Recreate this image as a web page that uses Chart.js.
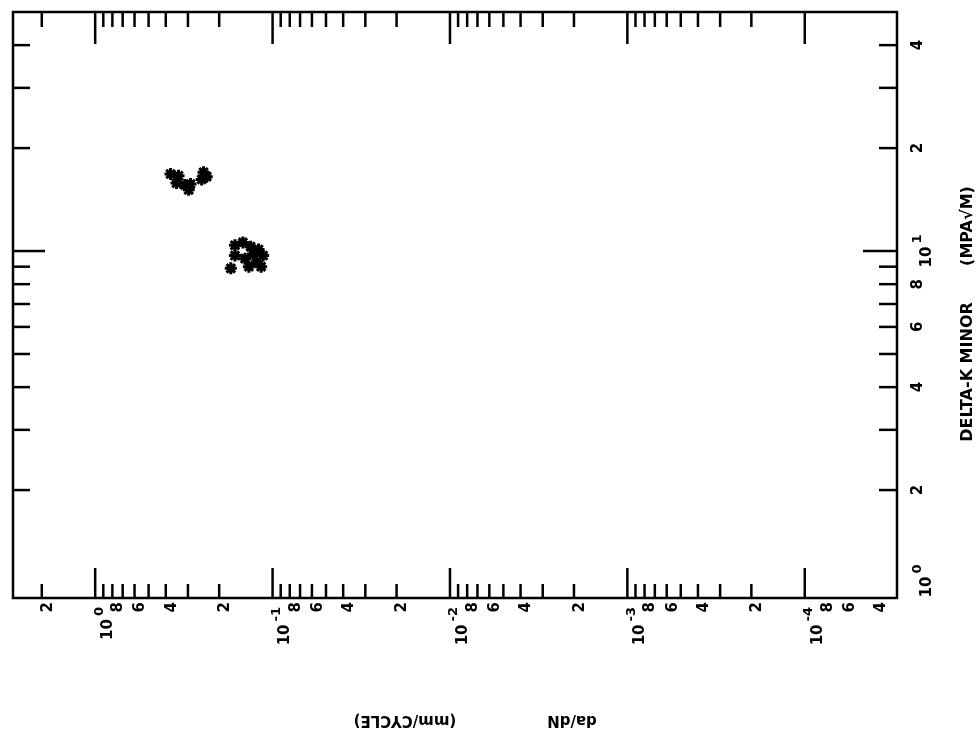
<!DOCTYPE html>
<html>
<head>
<meta charset="utf-8">
<script src="https://cdn.jsdelivr.net/npm/chart.js@4"></script>
<style>
  html, body { margin: 0; padding: 0; background: #fff; }
  #wrap { width: 977px; height: 735px; }
</style>
</head>
<body>
<div id="wrap"><canvas id="grafik"></canvas></div>
<script>
// da/dN (mm/cycle) -> horizontal axis, reversed log
const daDnRange = [2.906, 0.0000302];
// delta-K minor (MPa sqrt m) -> right axis, log
const deltaKRange = [0.967, 50];

const xMajorTicks = [1, 0.1, 0.01, 0.001, 0.0001];
const xMinorMult = [2, 3, 4, 5, 6, 7, 8, 9];
const xLabelValues = [2, 1, 0.8, 0.6, 0.4, 0.2, 0.1, 0.08, 0.06, 0.04, 0.02, 0.01, 0.008, 0.006, 0.004, 0.002,
  0.001, 0.0008, 0.0006, 0.0004, 0.0002, 0.0001, 0.00008, 0.00006, 0.00004];
const xLabelTexts = ['2', '10^0', '8', '6', '4', '2', '10^-1', '8', '6', '4', '2', '10^-2', '8', '6', '4', '2',
  '10^-3', '8', '6', '4', '2', '10^-4', '8', '6', '4'];

const yMajorTicks = [10];
const yMinorTicks = [2, 3, 4, 5, 6, 7, 8, 9, 20, 30, 40];
const yLabelValues = [1, 2, 4, 6, 8, 10, 20, 40];
const yLabelTexts = ['10^0', '2', '4', '6', '8', '10^1', '2', '4'];

// measured points
const grup1_daDn = [0.376, 0.339, 0.348, 0.313, 0.290, 0.297, 0.245, 0.235, 0.251];
const grup1_dK = [16.8, 16.6, 15.8, 15.6, 15.7, 15.1, 17.0, 16.5, 16.2];
const grup2_daDn = [0.163, 0.147, 0.133, 0.120, 0.113, 0.123, 0.136, 0.116, 0.143, 0.163, 0.172, 0.129];
const grup2_dK = [10.4, 10.6, 10.3, 10.1, 9.7, 9.3, 9.0, 9.0, 9.5, 9.7, 8.9, 9.8];

function noktalar(xs, ys) {
    return xs.map((x, i) => ({ x: x, y: ys[i] }));
}

function yaziCiz(ctx, x, y, aci, metin, hiza, kucukOfs, buyukOfs) {
    // draws "2" or "10^n" rotated; power labels get a raised exponent
    ctx.save();
    ctx.translate(x, y);
    ctx.rotate(aci);
    ctx.textBaseline = 'middle';
    if (metin.indexOf('^') < 0) {
        ctx.font = 'bold 15px "DejaVu Sans"';
        ctx.textAlign = hiza;
        ctx.fillText(metin, 0, kucukOfs);
    } else {
        const [taban, us] = metin.split('^');
        ctx.font = 'bold 15px "DejaVu Sans"';
        const w1 = ctx.measureText(taban).width;
        ctx.font = 'bold 13px "DejaVu Sans"';
        const w2 = ctx.measureText(us).width;
        const toplam = w1 + 3 + w2;
        let bas = hiza === 'right' ? -toplam : -toplam / 2;
        ctx.textAlign = 'left';
        ctx.font = 'bold 15px "DejaVu Sans"';
        ctx.fillText(taban, bas, buyukOfs);
        ctx.font = 'bold 13px "DejaVu Sans"';
        ctx.fillText(us, bas + w1 + 3, buyukOfs - 9);
    }
    ctx.restore();
}

const cizimEklentisi = {
    id: 'cizimEklentisi',
    afterDraw(chart) {
        const ctx = chart.ctx;
        const a = chart.chartArea;
        const sx = chart.scales.x, sy = chart.scales.y;
        ctx.save();
        ctx.strokeStyle = '#000';
        ctx.fillStyle = '#000';
        ctx.lineWidth = 2.5;
        ctx.strokeRect(a.left, a.top, a.right - a.left, a.bottom - a.top);

        const cizgi = (x1, y1, x2, y2) => {
            ctx.beginPath(); ctx.moveTo(x1, y1); ctx.lineTo(x2, y2); ctx.stroke();
        };

        // x ticks, inside, top and bottom
        xMajorTicks.forEach(v => {
            const px = sx.getPixelForValue(v);
            xMinorMult.forEach(m => {
                const mv = v * m;
                const mp = sx.getPixelForValue(mv);
                if (mp > a.left + 2 && mp < a.right - 2) {
                    cizgi(mp, a.top, mp, a.top + 15);
                    cizgi(mp, a.bottom, mp, a.bottom - 14);
                }
            });
            cizgi(px, a.top, px, a.top + 32);
            cizgi(px, a.bottom, px, a.bottom - 30);
        });
        [0.00003].forEach(v => {
            const mp = sx.getPixelForValue(v);
            if (mp < a.right - 2) { cizgi(mp, a.top, mp, a.top + 15); cizgi(mp, a.bottom, mp, a.bottom - 14); }
        });

        // y ticks, inside, left and right
        yMajorTicks.forEach(v => {
            const py = sy.getPixelForValue(v);
            cizgi(a.left, py, a.left + 32, py);
            cizgi(a.right, py, a.right - 34, py);
        });
        yMinorTicks.forEach(v => {
            const py = sy.getPixelForValue(v);
            cizgi(a.left, py, a.left + 17, py);
            cizgi(a.right, py, a.right - 18, py);
        });

        // bottom labels, turned -90deg
        xLabelValues.forEach((v, i) => {
            const px = sx.getPixelForValue(v);
            const t = xLabelTexts[i];
            if (t.indexOf('^') < 0) {
                yaziCiz(ctx, px, a.bottom + 4, -Math.PI / 2, t, 'right', 6, 0);
            } else {
                yaziCiz(ctx, px, a.bottom + 9, -Math.PI / 2, t, 'right', 0, 13);
            }
        });

        // right labels, turned -90deg
        yLabelValues.forEach((v, i) => {
            let py = sy.getPixelForValue(v);
            const t = yLabelTexts[i];
            if (v === 1) py -= 12;
            yaziCiz(ctx, a.right + 21, py, -Math.PI / 2, t, 'center', 0, 9);
        });

        // axis titles
        ctx.font = 'bold 16px "DejaVu Sans"';
        ctx.textAlign = 'center';
        ctx.textBaseline = 'middle';
        ctx.save();
        ctx.translate(968, 372); ctx.rotate(-Math.PI / 2);
        ctx.fillText('DELTA-K MINOR', 0, 0);
        ctx.restore();
        ctx.save();
        ctx.translate(968, 226); ctx.rotate(-Math.PI / 2);
        ctx.fillText('(MPA\u221AM)', 0, 0);
        ctx.restore();

        ctx.font = 'bold 15px "DejaVu Sans"';
        ctx.save();
        ctx.translate(572, 720); ctx.rotate(Math.PI);
        ctx.fillText('da/dN', 0, 0);
        ctx.restore();
        ctx.save();
        ctx.translate(405, 720); ctx.rotate(Math.PI);
        ctx.fillText('(mm/CYCLE)', 0, 0);
        ctx.restore();

        ctx.restore();
    }
};

const data = {
    datasets: [
        {
            label: 'grup1',
            data: noktalar(grup1_daDn, grup1_dK),
            pointStyle: 'star',
            pointRadius: 6,
            pointBorderWidth: 3,
            pointBorderColor: '#000',
            pointBackgroundColor: '#000'
        },
        {
            label: 'grup2',
            data: noktalar(grup2_daDn, grup2_dK),
            pointStyle: 'star',
            pointRadius: 6,
            pointBorderWidth: 3,
            pointBorderColor: '#000',
            pointBackgroundColor: '#000'
        }
    ]
};

const config = {
    type: 'scatter',
    data: data,
    options: {
        responsive: true,
        maintainAspectRatio: false,
        animation: false,
        layout: { padding: { left: 13, top: 12, right: 80, bottom: 137 } },
        plugins: {
            legend: { display: false },
            tooltip: { enabled: false }
        },
        scales: {
            x: {
                type: 'logarithmic',
                display: false,
                reverse: true,
                min: daDnRange[1],
                max: daDnRange[0]
            },
            y: {
                type: 'logarithmic',
                display: false,
                position: 'right',
                min: deltaKRange[0],
                max: deltaKRange[1]
            }
        }
    },
    plugins: [cizimEklentisi]
};

new Chart(document.getElementById('grafik'), config);
</script>
</body>
</html>
